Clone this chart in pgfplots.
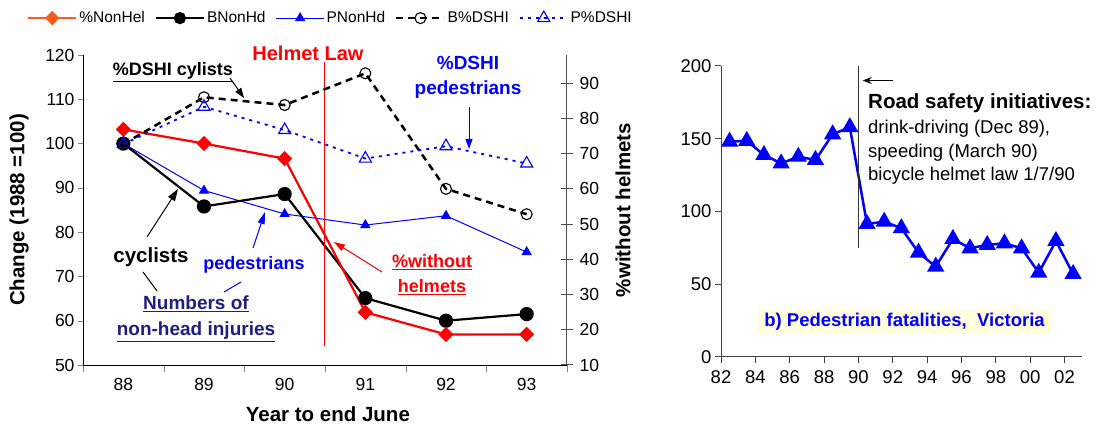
\documentclass[border=0pt]{standalone}
\usepackage{pgfplots}
\pgfplotsset{compat=1.18}
\usepackage{fontspec}
\setmainfont{Liberation Sans}
\usetikzlibrary{arrows.meta}
\definecolor{legred}{RGB}{255,90,30}
\definecolor{navyt}{RGB}{30,30,130}
\definecolor{paleyel}{RGB}{255,255,222}
\newcommand{\fs}[2]{\fontsize{#1}{#2}\selectfont}
\pgfplotsset{every axis/.append style={/pgf/number format/assume math mode=true}}
\begin{document}
\begin{tikzpicture}[x=1pt,y=1pt]
\path[use as bounding box] (0,0) rectangle (1101,427);
% ---------------- left chart, left axis
\begin{axis}[
  at={(83pt,62pt)}, anchor=south west, scale only axis,
  width=484pt, height=310pt,
  xmin=87.5, xmax=93.5, ymin=50, ymax=120,
  axis x line*=bottom, axis y line*=left,
  xtick={87.5,88.5,...,93.5}, xticklabels={88,89,90,91,92,93},
  x tick label as interval,
  ytick={50,60,...,120},
  tick align=outside, major tick length=5pt,
  xtick style={/pgfplots/major tick length=7pt},
  tick label style={font=\fs{17.5}{20}},
  xticklabel style={yshift=-5pt},
  ylabel={\textbf{Change (1988 =100)}},
  xlabel={\textbf{Year to end June}},
  label style={font=\fs{20.5}{24}},
  ylabel style={at={(axis description cs:-0.132,0.5)}, anchor=center},
  xlabel style={at={(axis description cs:0.506,-0.158)}, anchor=center},
  clip=false,
]
\addplot[blue, line width=1pt, mark=triangle*, mark size=5pt] coordinates {(88,100)(89,89.4)(90,84.1)(91,81.6)(92,83.7)(93,75.5)};
\addplot[black, line width=2.2pt, mark=*, mark size=6pt] coordinates {(88,100)(89,85.8)(90,88.6)(91,65.1)(92,60.0)(93,61.5)};
\addplot[red, line width=2.2pt, mark=square*, mark size=4.3pt, mark options={rotate=45}] coordinates {(88,103.2)(89,100)(90,96.6)(91,61.9)(92,56.9)(93,56.9)};
\draw[red, line width=1pt] (axis cs:90.5,118.4) -- (axis cs:90.5,54.3);
\end{axis}
% ---------------- left chart, right axis
\begin{axis}[
  at={(83pt,62pt)}, anchor=south west, scale only axis,
  width=484pt, height=310pt,
  xmin=87.5, xmax=93.5, ymin=10, ymax=98,
  axis x line=none, axis y line*=right,
  y axis line style={black!70, line width=1pt},
  ytick={10,20,...,90},
  tick align=center, major tick length=12pt,
  ytick style={black!70, line width=1pt},
  tick label style={font=\fs{17.5}{20}},
  yticklabel style={xshift=3pt},
  ylabel={\textbf{\%without helmets}},
  label style={font=\fs{20.5}{24}},
  ylabel style={at={(axis description cs:1.116,0.5)}, anchor=center, rotate=0},
  clip=false,
  legend columns=5,
  legend style={at={(axis description cs:-0.122,1.119)}, anchor=west, draw=none, fill=none,
    font=\fs{15.5}{17}, /tikz/every even column/.append style={column sep=8pt}},
  legend image code/.code={\draw[mark repeat=2,mark phase=2,#1] plot coordinates {(0pt,0pt) (24pt,0pt) (48pt,0pt)};},
]
\addlegendimage{legred, line width=2.2pt, mark=square*, mark size=4pt, mark options={rotate=45}}
\addlegendentry{\%NonHel}
\addlegendimage{black, line width=2.2pt, mark=*, mark size=5pt}
\addlegendentry{BNonHd}
\addlegendimage{blue, line width=1pt, mark=triangle*, mark size=5pt}
\addlegendentry{PNonHd}
\addplot[black, line width=2.5pt, dash pattern=on 7pt off 5pt, mark=o, mark size=5.5pt, mark options={solid, line width=1.1pt, fill=white}] coordinates {(88,72.7)(89,86.0)(90,83.8)(91,92.8)(92,60.0)(93,52.8)};
\addlegendentry{B\%DSHI}
\addplot[blue, line width=1.8pt, dash pattern=on 3pt off 5pt, mark=triangle, mark size=7pt, mark options={solid, line width=1.1pt}] coordinates {(88,72.7)(89,83.3)(90,76.7)(91,68.6)(92,72.1)(93,67.2)};
\addlegendentry{P\%DSHI}
\end{axis}
% ---------------- right chart
\begin{axis}[
  at={(721pt,70.3pt)}, anchor=south west, scale only axis,
  width=360.7pt, height=290.7pt,
  xmin=82, xmax=103, ymin=0, ymax=200,
  axis x line*=bottom, axis y line*=left,
  axis line style={black!75, line width=1pt},
  xtick={82,84,...,102}, xticklabels={82,84,86,88,90,92,94,96,98,00,02},
  ytick={0,50,...,200},
  tick align=outside, major tick length=6pt,
  tick style={black!75, line width=1pt},
  tick label style={font=\fs{18.5}{21}},
  xticklabel style={yshift=-4pt},
  clip=false,
]
\addplot[blue, line width=2.5pt, mark=triangle*, mark size=7.5pt] coordinates {
(82.5,148)(83.5,148.5)(84.5,138.8)(85.5,133)(86.5,137.6)(87.5,135.4)(88.5,153)(89.5,157.9)
(90.5,91.3)(91.5,92.9)(92.5,88.4)(93.5,71.6)(94.5,62)(95.5,81)(96.5,74.6)(97.5,76.9)
(98.5,78)(99.5,74.6)(100.5,57.8)(101.5,79.6)(102.5,56.9)};
\draw[black!80, line width=1.3pt] (axis cs:90,200) -- (axis cs:90,75);
\draw[black, line width=1pt, -{Stealth[length=9pt,width=7pt]}] (axis cs:92,190) -- (axis cs:90.25,190);
\end{axis}
% ---------------- annotations, left chart
\node[red, font=\fs{20}{24}\bfseries] at (308,374) {Helmet Law};
\node[font=\fs{18}{22}\bfseries] at (173,355) {\underline{\%DSHI cylists}};
\draw[line width=1pt, -{Triangle[length=10pt,width=7pt]}] (230,349) -- (244,329);
\node[blue, font=\fs{19}{25}\bfseries, align=center] at (468,349.5) {\%DSHI\\pedestrians};
\draw[blue, line width=1pt, -{Triangle[length=10pt,width=7pt]}] (469,320) -- (469,278);
\node[font=\fs{20.5}{24}\bfseries] at (151,170) {cyclists};
\draw[line width=1pt, -{Triangle[length=12pt,width=8pt]}] (147,190) -- (178,238);
\draw[line width=1pt] (143,155) -- (157,136);
\node[blue, font=\fs{18}{22}\bfseries] at (254,162) {pedestrians};
\draw[blue, line width=1pt, -{Triangle[length=12pt,width=7pt]}] (253,179) -- (265,215);
\draw[blue, line width=1pt] (224,135) -- (241,145);
\node[navyt, font=\fs{19}{26}\bfseries, align=center] at (196,108) {\underline{Numbers of}\\\underline{non-head injuries}};
\node[red, font=\fs{18}{25}\bfseries, align=center] at (432,152.5) {\underline{\%without}\\\underline{helmets}};
\draw[red, line width=1pt, -{Triangle[length=11pt,width=7pt]}] (382,155) -- (334,185);
% ---------------- annotations, right chart
\node[anchor=west, font=\fs{20.5}{24}\bfseries, inner sep=0pt] at (868,324) {Road safety initiatives:};
\node[anchor=west, font=\fs{18.5}{22}, inner sep=0pt] at (868,298) {drink-driving (Dec 89),};
\node[anchor=west, font=\fs{18.5}{22}, inner sep=0pt] at (868,274.3) {speeding (March 90)};
\node[anchor=west, font=\fs{18.5}{22}, inner sep=0pt] at (868,251) {bicycle helmet law 1/7/90};
\node[fill=paleyel, text=blue, font=\fs{18.5}{22}\bfseries, minimum width=293pt, minimum height=25pt, inner sep=0pt] at (904.5,105.5) {b) Pedestrian fatalities,\ \ Victoria};
\end{tikzpicture}
\end{document}
